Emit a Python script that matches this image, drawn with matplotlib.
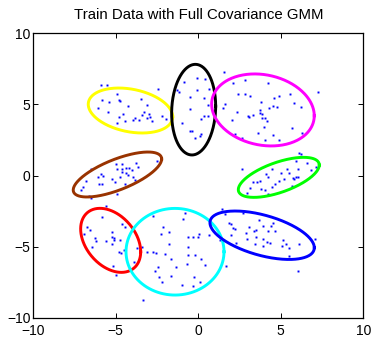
import numpy as np
import matplotlib
matplotlib.use("Agg")
import matplotlib.pyplot as plt

plt.rcParams['font.family'] = ['Liberation Sans', 'DejaVu Sans']

# ---- data points ----
yellow_x = [-5.92, -5.51, -4.95, -2.44, -5.82, -5.41, -4.79, -4.75, -3.45, -6.06, -4.26, -3.13,
            -5.45, -4.54, -4.79, -3.31, -3.43, -2.99, -2.93, -3.84, -3.98, -3.57, -3.13, -2.83,
            -2.22, -1.96, -4.95, -4.42]
yellow_y = [6.39, 6.39, 5.73, 6.06, 5.31, 5.15, 5.31, 5.27, 5.38, 4.75, 4.87, 4.96,
            4.49, 4.30, 4.14, 4.49, 4.26, 4.30, 4.12, 4.02, 3.93, 3.88, 4.02, 3.86,
            4.16, 3.98, 3.72, 3.84]

black_x = [-0.87, -0.06, 0.43, -1.27, -1.15, -0.10, 0.63, -0.48, 0.33, 0.57, -0.52, 0.16,
           0.37, 0.61, -1.01, -0.50, -0.40, 0.18, 0.08, -0.22]
black_y = [6.60, 6.88, 6.79, 6.01, 5.85, 5.99, 6.06, 5.50, 5.47, 4.96, 4.70, 3.95,
           4.18, 4.21, 3.72, 3.15, 3.15, 2.92, 2.75, 2.66]

magenta_x = [1.58, 2.85, 2.12, 4.24, 7.23, 2.43, 2.85, 3.13, 5.54, 4.89, 4.59, 3.82, 5.80,
             1.64, 1.48, 6.20, 4.53, 4.75, 4.31, 3.74, 2.33, 3.74, 2.99, 3.07, 3.30, 3.88,
             3.88, 4.02, 4.14, 2.06, 4.00, 5.70, 3.64, 2.20, 2.67, 4.51, 4.04, 4.91, 6.31]
magenta_y = [7.26, 6.72, 6.48, 6.53, 5.90, 5.71, 5.71, 5.59, 5.73, 5.59, 5.45, 5.17, 5.08,
             5.03, 4.77, 4.84, 4.91, 4.84, 4.72, 4.63, 4.49, 4.42, 4.21, 4.09, 4.26, 4.30,
             4.07, 4.02, 3.86, 3.90, 3.39, 3.36, 3.01, 2.90, 2.66, 2.83, 2.52, 2.52, 2.99]

brown_x = [-6.48, -2.52, -5.01, -4.60, -3.80, -4.95, -4.62, -4.38, -4.20, -4.02, -3.64, -5.92,
           -6.10, -5.76, -4.64, -4.38, -4.28, -4.75, -5.25, -5.05, -3.94, -3.84, -6.79, -6.00,
           -5.82, -4.44, -7.01, -7.13, -4.95, -6.62, -6.50]
brown_y = [0.48, 1.04, 0.79, 0.83, 0.86, 0.46, 0.46, 0.53, 0.53, 0.41, 0.57, 0.08,
           -0.11, -0.06, 0.27, 0.20, 0.04, -0.08, -0.27, -0.43, -0.08, -0.29, -0.36, -0.60,
           -0.60, -0.60, -0.79, -1.02, -1.30, -1.42, -1.61]

green_x = [6.10, 6.22, 5.90, 6.57, 2.63, 4.49, 5.36, 6.06, 6.83, 7.13, 4.10, 5.01, 5.52,
           4.24, 3.76, 5.21, 4.89, 5.76, 5.92, 6.06, 5.82, 3.29, 3.54, 3.13, 4.65, 5.70,
           4.45, 3.78, 4.04, 2.97, 4.24]
green_y = [1.56, 1.51, 1.04, 0.86, 0.48, 0.48, 0.46, 0.43, 0.41, 0.57, 0.11, 0.15, 0.15,
           -0.13, -0.36, -0.27, -0.39, -0.20, -0.13, -0.08, -0.25, -0.48, -0.48, -0.86, -0.60,
           -0.74, -0.83, -0.95, -1.02, -1.21, -1.32]

red_x = [-5.61, -5.84, -4.60, -4.44, -6.77, -6.56, -6.91, -5.25, -6.26, -6.20, -5.61, -5.25,
         -5.09, -5.09, -4.75, -5.25, -6.46, -4.50, -4.81, -4.71, -5.19, -5.01, -3.88]
red_y = [-2.12, -2.92, -3.39, -3.62, -3.62, -3.86, -4.11, -3.95, -4.42, -4.61, -4.58, -4.35,
         -4.42, -4.54, -4.54, -4.82, -5.05, -5.24, -5.36, -5.47, -6.36, -7.00, -6.11]

cyan_x = [-2.77, -0.81, -0.91, -2.16, -1.78, -2.28, -1.78, -0.64, -0.30, 0.00, 0.04, 0.67,
          -3.74, -3.43, -0.64, -3.09, -2.77, -2.56, -2.02, -0.64, -0.20, -1.68, 0.16, -0.71,
          0.41, -1.35, -2.46, -2.62, -1.68, -2.36, -0.26, -2.18, 0.10, -0.97, -0.34, 1.68, -3.37]
cyan_y = [-2.85, -2.66, -3.06, -3.62, -3.95, -4.09, -4.82, -4.32, -4.35, -4.35, -4.11, -4.18,
          -5.08, -5.05, -5.05, -5.40, -5.36, -5.47, -5.54, -5.59, -5.59, -5.90, -5.90, -6.20,
          -6.29, -6.41, -6.46, -6.72, -7.07, -7.14, -7.11, -7.47, -7.47, -7.68, -7.75, -6.34, -8.76]

blue_x = [1.42, 1.62, 2.73, 3.70, 4.51, 1.84, 1.98, 3.94, 4.41, 3.07, 2.12, 2.22, 3.48, 3.40,
          4.20, 4.65, 2.87, 1.96, 3.48, 2.93, 3.94, 5.15, 7.07, 2.28, 3.46, 4.14, 4.35, 5.32,
          6.10, 5.05, 5.50, 1.32, 5.52, 6.06, 3.90]
blue_y = [-2.36, -2.73, -2.66, -3.13, -3.32, -3.36, -3.41, -3.55, -3.55, -3.65, -3.69, -3.79,
          -3.83, -3.88, -3.88, -3.90, -4.07, -4.18, -4.30, -4.49, -4.49, -4.54, -4.47, -4.77,
          -4.82, -4.70, -4.72, -4.82, -4.79, -4.96, -5.08, -4.54, -5.64, -6.72, -4.93]

points_x = [yellow_x, black_x, magenta_x, brown_x, green_x, red_x, cyan_x, blue_x]
points_y = [yellow_y, black_y, magenta_y, brown_y, green_y, red_y, cyan_y, blue_y]

# ---- GMM components: means and covariances ----
means = [(-4.11, 4.57), (-0.28, 4.63), (3.92, 4.61), (-4.90, 0.07),
         (4.88, -0.13), (-5.31, -4.56), (-1.41, -5.36), (3.87, -4.20)]
covs = [[[6.55, -1.12], [-1.12, 2.50]],
        [[1.78, 0.33], [0.33, 10.15]],
        [[9.67, -1.27], [-1.27, 6.41]],
        [[7.18, 2.92], [2.92, 2.50]],
        [[6.02, 2.12], [2.12, 1.98]],
        [[3.31, -1.46], [-1.46, 5.07]],
        [[8.82, 0.0], [0.0, 9.28]],
        [[10.0, -2.78], [-2.78, 2.90]]]
colors = ['#FFFF00', '#000000', '#FF00FF', '#993300', '#00FF00', '#FF0000', '#00FFFF', '#0000FF']

xticks = [-10, -5, 0, 5, 10]
yticks = [-10, -5, 0, 5, 10]
title = 'Train Data with Full Covariance GMM'

fig = plt.figure(figsize=(3.72, 3.39), dpi=100)
ax = fig.add_axes([0.0895, 0.0628, 0.887, 0.839])

for px, py in zip(points_x, points_y):
    ax.plot(px, py, linestyle='none', marker='s', markersize=1.4, color='#0000FF',
            markeredgewidth=0, zorder=2)

t = np.linspace(0, 2 * np.pi, 300)
circle = np.vstack([np.cos(t), np.sin(t)])
for m, c, col in zip(means, covs, colors):
    L = np.linalg.cholesky(np.array(c))
    e = L @ circle
    ax.plot(m[0] + e[0], m[1] + e[1], color=col, linewidth=2.1, zorder=3)

ax.set_xlim(-10, 10)
ax.set_ylim(-10, 10)
ax.set_xticks(xticks)
ax.set_yticks(yticks)
ax.set_xticklabels(['\u2212' + str(abs(v)) if v < 0 else str(v) for v in xticks])
ax.set_yticklabels(['\u2212' + str(abs(v)) if v < 0 else str(v) for v in yticks])
ax.tick_params(direction='in', length=3.5, width=0.7, top=True, right=True,
               labelsize=10, colors='black')
ax.tick_params(axis='x', pad=4.5)
ax.tick_params(axis='y', pad=2)
for s in ax.spines.values():
    s.set_linewidth(0.9)
ax.set_title(title, fontsize=10.8, pad=10)

fig.savefig('out.png', dpi=100)
